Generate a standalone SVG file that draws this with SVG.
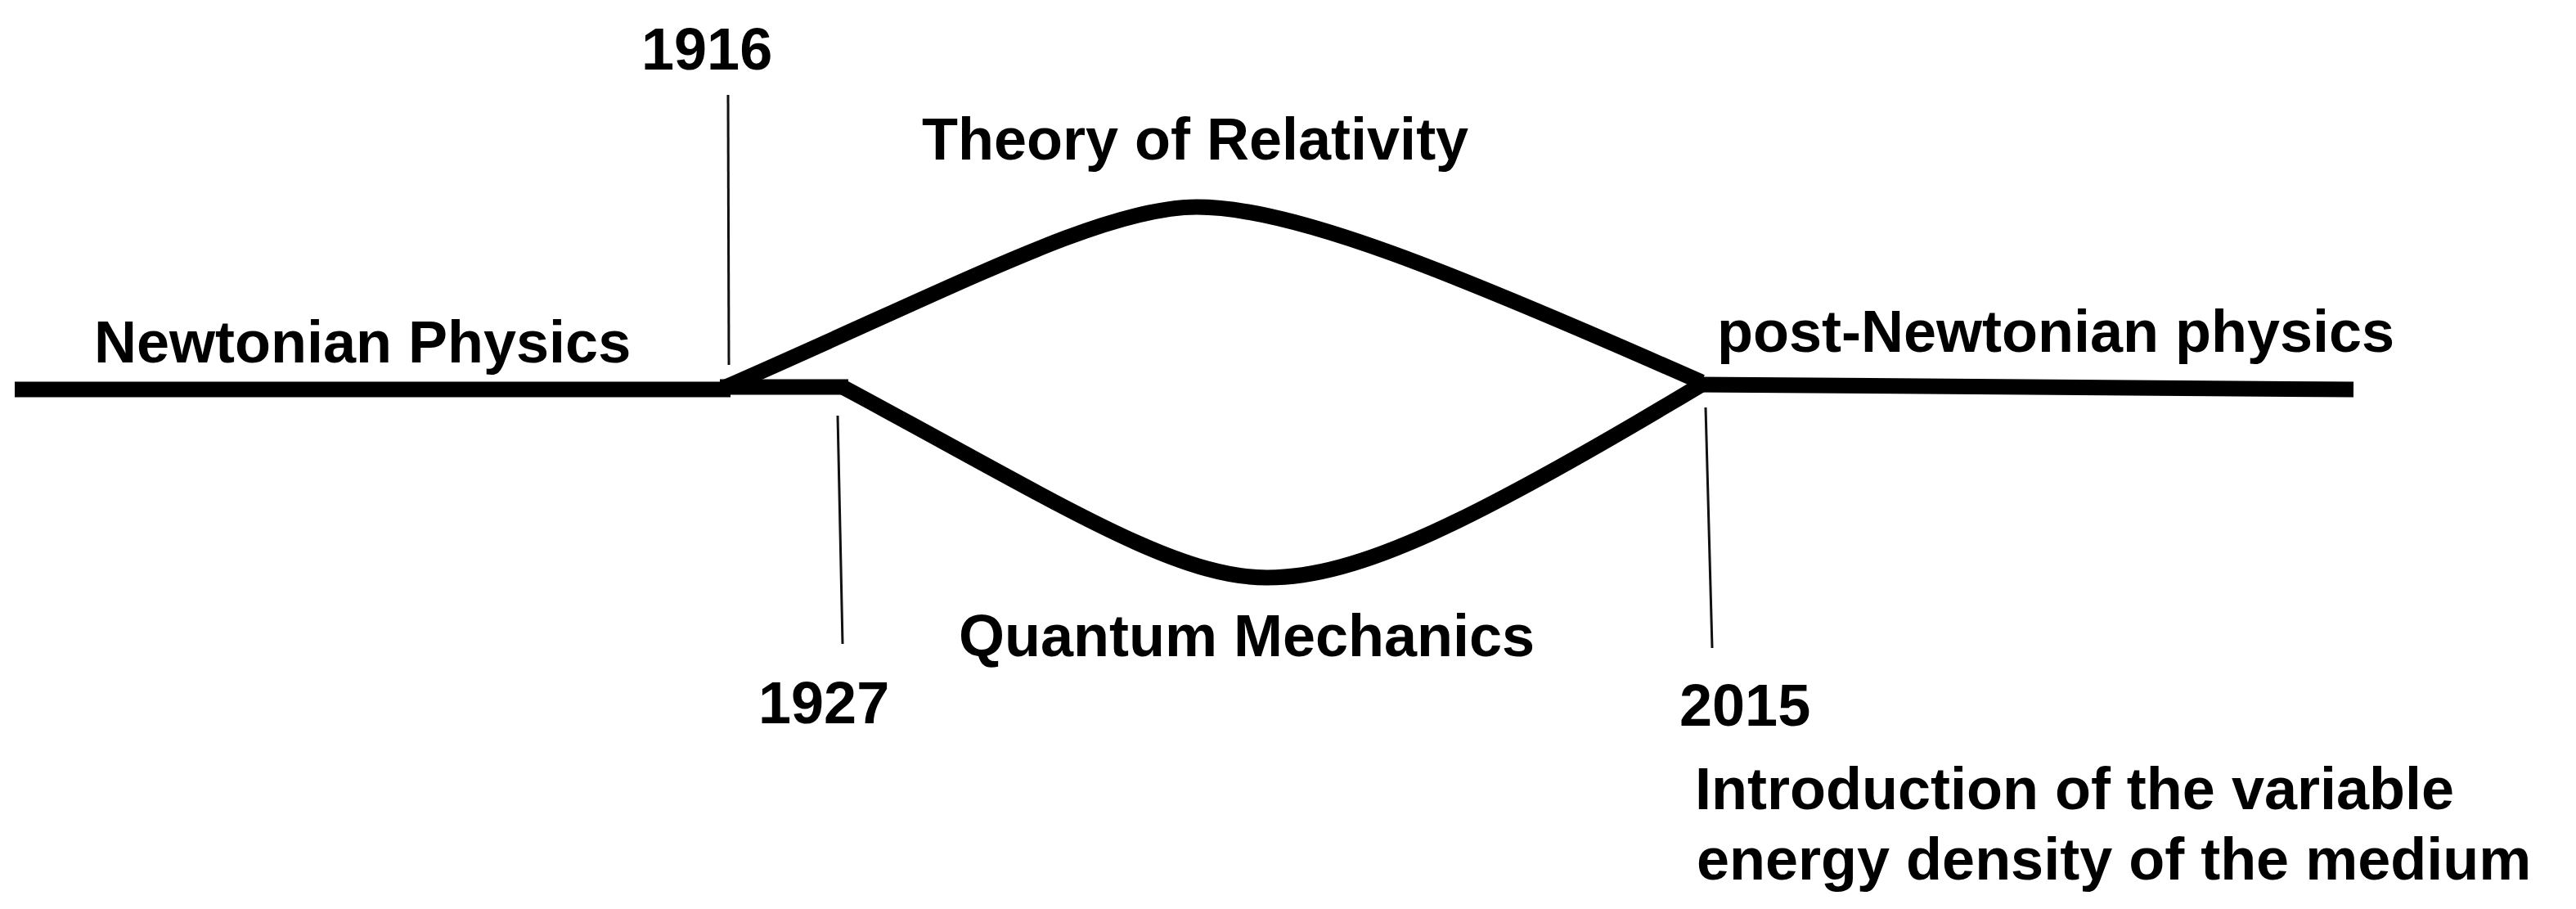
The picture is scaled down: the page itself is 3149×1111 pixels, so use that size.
<svg xmlns="http://www.w3.org/2000/svg" width="3149" height="1111" viewBox="0 0 3149 1111">
<style>
  .lbl { font-family: "Liberation Sans", Arial, sans-serif; font-weight: bold; font-size: 72px; fill: #000; }
  .thick { fill: none; stroke: #000; stroke-width: 19; stroke-linejoin: miter; }
  .tick { fill: none; stroke: #111; stroke-width: 3; }
</style>
<rect width="3149" height="1111" fill="#fff"/>
<g id="connectors">
  <line class="thick" x1="18" y1="476" x2="893" y2="476"/>
  <line class="thick" x1="880" y1="473" x2="1037" y2="473"/>
  <path class="thick" d="M 885 474 C 1180 345, 1350 253, 1463 253 C 1580 253, 1770 330, 2080 467"/>
  <path class="thick" d="M 1030 473 C 1295 615, 1435 706, 1549 706 C 1660 706, 1800 638, 2080 470"/>
  <line class="thick" x1="2072" y1="470" x2="2877" y2="476"/>
  <line class="tick" x1="890" y1="116" x2="891" y2="446"/>
  <line class="tick" x1="1024" y1="508" x2="1030" y2="787"/>
  <line class="tick" x1="2085" y1="498" x2="2093" y2="792"/>
</g>
<g id="newtonian"><text class="lbl" x="115" y="443">Newtonian Physics</text></g>
<g id="y1916"><text class="lbl" x="784" y="85">1916</text></g>
<g id="relativity"><text class="lbl" x="1127" y="195">Theory of Relativity</text></g>
<g id="post-newtonian"><text class="lbl" x="2099" y="430">post-Newtonian physics</text></g>
<g id="quantum"><text class="lbl" x="1172" y="802">Quantum Mechanics</text></g>
<g id="y1927"><text class="lbl" x="927" y="884">1927</text></g>
<g id="y2015"><text class="lbl" x="2053" y="887">2015</text></g>
<g id="introduction">
  <text class="lbl" x="2072" y="989">Introduction of the variable</text>
  <text class="lbl" x="2074" y="1075">energy density of the medium</text>
</g>
</svg>
